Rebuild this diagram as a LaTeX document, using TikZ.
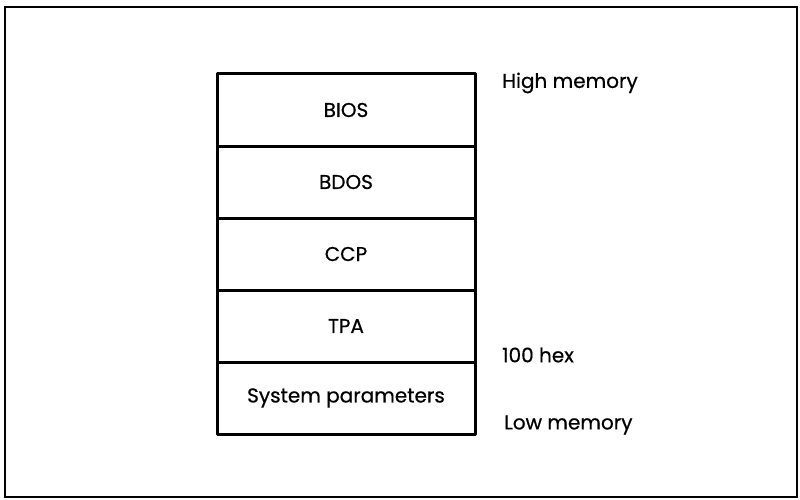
\documentclass[tikz,border=0pt]{standalone}
\usepackage{fontspec}
\setmainfont{Poppins}
\newfontfamily\labfont{Poppins}[FakeBold=0.6]
\begin{document}
\begin{tikzpicture}[x=1pt,y=-1pt,
  mem/.style={draw, line width=3pt, line join=round, minimum width=258pt, minimum height=72pt, inner sep=0pt, font=\labfont\fontsize{20}{24}\selectfont},
  lab/.style={anchor=west, inner sep=0pt, font=\labfont\fontsize{20}{24}\selectfont}]
\useasboundingbox (0,0) rectangle (800,500);
\draw[line width=2.5pt] (5,7) rectangle (797,497);
\node[mem] (bios) at (346,110) {BIOS};
\node[mem] (bdos) at (346,182) {BDOS};
\node[mem] (ccp) at (346,254) {CCP};
\node[mem] (tpa) at (346,326) {TPA};
\node[mem] (sys) at (346,398) {System parameters};
\node[lab] (high) at (502,83) {High memory};
\node[lab] (hex) at (502,355) {100 hex};
\node[lab] (low) at (504,425) {Low memory};
\end{tikzpicture}
\end{document}
